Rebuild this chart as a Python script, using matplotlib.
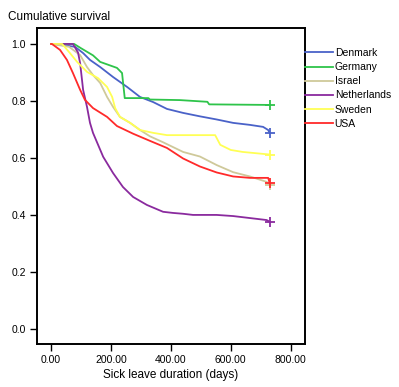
import numpy as np
import matplotlib
matplotlib.use("Agg")
import matplotlib.pyplot as plt

plt.rcParams['font.family'] = ['Liberation Sans', 'DejaVu Sans']

# Kaplan-Meier curves (days, cumulative survival)
dk_days = [0, 10, 80, 107, 130, 164, 207, 254, 297, 341, 387, 441, 497, 553, 608, 664, 708, 725, 730]
dk_surv = [1.0, 1.0, 0.99, 0.968, 0.944, 0.919, 0.884, 0.849, 0.814, 0.796, 0.772, 0.758, 0.746, 0.735, 0.723, 0.716, 0.709, 0.698, 0.688]

de_days = [0, 77, 100, 140, 164, 220, 237, 246, 325, 330, 430, 522, 528, 730]
de_surv = [1.0, 1.0, 0.985, 0.96, 0.937, 0.916, 0.898, 0.81, 0.81, 0.805, 0.803, 0.797, 0.788, 0.786]

il_days = [0, 60, 97, 120, 140, 164, 187, 207, 230, 264, 297, 330, 374, 441, 497, 553, 608, 664, 720, 730]
il_surv = [1.0, 0.99, 0.961, 0.919, 0.891, 0.863, 0.814, 0.779, 0.744, 0.723, 0.698, 0.676, 0.655, 0.621, 0.605, 0.575, 0.55, 0.535, 0.516, 0.505]

nl_days = [0, 30, 73, 90, 97, 107, 120, 130, 140, 157, 174, 207, 240, 274, 320, 374, 407, 441, 474, 553, 608, 664, 720, 730]
nl_surv = [1.0, 1.0, 1.0, 0.97, 0.933, 0.839, 0.779, 0.723, 0.688, 0.646, 0.604, 0.547, 0.498, 0.463, 0.435, 0.411, 0.407, 0.404, 0.40, 0.40, 0.396, 0.389, 0.382, 0.376]

se_days = [0, 37, 63, 87, 120, 157, 187, 204, 214, 230, 264, 297, 341, 387, 548, 565, 600, 640, 730]
se_surv = [1.0, 1.0, 0.968, 0.937, 0.902, 0.88, 0.849, 0.814, 0.775, 0.744, 0.723, 0.698, 0.688, 0.68, 0.68, 0.646, 0.628, 0.621, 0.612]

us_days = [0, 3, 30, 53, 73, 97, 113, 140, 187, 220, 274, 330, 387, 441, 497, 553, 608, 664, 725, 730]
us_surv = [1.0, 1.0, 0.979, 0.944, 0.898, 0.839, 0.804, 0.775, 0.744, 0.712, 0.685, 0.66, 0.635, 0.598, 0.57, 0.549, 0.535, 0.53, 0.53, 0.512]

names = ['Denmark', 'Germany', 'Israel', 'Netherlands', 'Sweden', 'USA']
colors = ['#4a62c8', '#2ec44a', '#cfc99a', '#8a2a9e', '#ffff55', '#ff2a2a']
curves = [(dk_days, dk_surv), (de_days, de_surv), (il_days, il_surv),
          (nl_days, nl_surv), (se_days, se_surv), (us_days, us_surv)]

fig = plt.figure(figsize=(3.99, 3.87), dpi=100)
ax = fig.add_axes([37 / 399, 43 / 387, 268 / 399, 316 / 387])

for name, col, (d, s) in zip(names, colors, curves):
    ax.plot(d, s, color=col, lw=1.3, label=name)
    ax.plot(d[-1], s[-1], marker='+', color=col, ms=7, mew=1.3)

ax.set_xlim(-47, 848)
ax.set_ylim(-0.053, 1.056)
ax.set_xticks([0, 200, 400, 600, 800])
ax.set_xticklabels(['0.00', '200.00', '400.00', '600.00', '800.00'])
ax.set_yticks([0.0, 0.2, 0.4, 0.6, 0.8, 1.0])
ax.set_yticklabels(['0.0', '0.2', '0.4', '0.6', '0.8', '1.0'])
ax.tick_params(direction='out', length=5, width=1, labelsize=7.5, pad=3)
for sp in ax.spines.values():
    sp.set_linewidth(1.4)

ax.set_xlabel('Sick leave duration (days)', fontsize=8.5, labelpad=3)
fig.text(8 / 399, 1 - 17 / 387, 'Cumulative survival', fontsize=8.5, va='center', ha='left')

ax.legend(loc='upper left', bbox_to_anchor=(305 / 399, 1 - 48 / 387),
          bbox_transform=fig.transFigure, frameon=False, fontsize=7.5,
          handlelength=2.7, handletextpad=0.15, labelspacing=0.4,
          borderpad=0, borderaxespad=0)

fig.savefig('out.png', dpi=100)
